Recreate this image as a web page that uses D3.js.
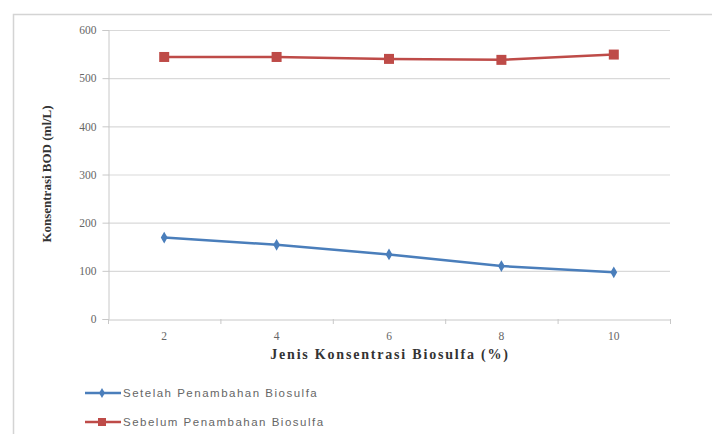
<!DOCTYPE html>
<html><head><meta charset="utf-8">
<script src="https://cdn.jsdelivr.net/npm/d3@7"></script>
<style>body{margin:0;background:#fff;} svg{display:block;}</style>
</head><body>
<svg id="c" width="712" height="434"></svg>
<script>
const categories = ["2","4","6","8","10"];
const setelah = [169,154,134,110,97];
const sebelum = [544,544,540,538,549];
const yTicks = [0,100,200,300,400,500,600];
const seriesNames = ["Setelah Penambahan Biosulfa","Sebelum Penambahan Biosulfa"];

const svg = d3.select("#c");
const L=108, R=670, T=30, B=319;
// outer frame
svg.append("rect").attr("x",13.5).attr("y",14.5).attr("width",720).attr("height",440)
  .attr("fill","none").attr("stroke","#d4d4d4").attr("stroke-width",1.5);

const x = d3.scaleBand().domain(categories).range([L,R]);
const y = d3.scaleLinear().domain([0,600]).range([B,T]);

// grid
svg.append("g").selectAll("line").data(yTicks.filter(d=>d>0)).join("line")
  .attr("x1",L).attr("x2",R).attr("y1",d=>y(d)+.5).attr("y2",d=>y(d)+.5)
  .attr("stroke","#d9d9d9").attr("stroke-width",1.2);

const yAxis = svg.append("g").attr("transform",`translate(${L+.5},0)`)
  .call(d3.axisLeft(y).tickValues(yTicks).tickSize(6).tickPadding(6));
yAxis.select(".domain").attr("stroke","#c8c8c8");
yAxis.selectAll(".tick line").attr("stroke","#c8c8c8");
yAxis.selectAll("text").attr("font-family","Liberation Serif").attr("font-size",11.5).attr("fill","#666");

const xAxis = svg.append("g").attr("transform",`translate(0,${B+.5})`)
  .call(d3.axisBottom(x).tickSize(0).tickPadding(12));
xAxis.select(".domain").attr("stroke","#c8c8c8");
xAxis.selectAll("text").attr("font-family","Liberation Serif").attr("font-size",11.5).attr("fill","#666");
// category boundary ticks
svg.append("g").selectAll("line").data(d3.range(categories.length+1)).join("line")
  .attr("x1",i=>L+i*x.bandwidth()+.5).attr("x2",i=>L+i*x.bandwidth()+.5)
  .attr("y1",B).attr("y2",B+5).attr("stroke","#c8c8c8");

// titles
svg.append("text").attr("x",390).attr("y",359).attr("text-anchor","middle")
  .attr("font-family","Liberation Serif").attr("font-weight","bold").attr("font-size",14)
  .attr("fill","#333").attr("letter-spacing",1.8).text("Jenis Konsentrasi Biosulfa (%)");
svg.append("text").attr("transform","translate(51,174) rotate(-90)").attr("text-anchor","middle")
  .attr("font-family","Liberation Serif").attr("font-weight","bold").attr("font-size",13)
  .attr("fill","#333").text("Konsentrasi BOD (ml/L)");

const cx = d => x(d)+x.bandwidth()/2;
const line = d3.line().x((d,i)=>cx(categories[i])).y(d=>y(d));
const colors = ["#4a7ebb","#be4b48"];
const data = [setelah, sebelum];

data.forEach((vals,k)=>{
  svg.append("path").datum(vals).attr("d",line).attr("fill","none")
    .attr("stroke",colors[k]).attr("stroke-width",2.5);
  const g = svg.append("g");
  if(k===0){
    g.selectAll("path").data(vals).join("path")
      .attr("d",d3.symbol(d3.symbolDiamond,40)())
      .attr("transform",(d,i)=>`translate(${cx(categories[i])},${y(d)})`)
      .attr("fill",colors[k]);
  } else {
    g.selectAll("rect").data(vals).join("rect")
      .attr("x",(d,i)=>cx(categories[i])-5).attr("y",d=>y(d)-5)
      .attr("width",10).attr("height",10).attr("fill",colors[k]);
  }
});

// legend
const ly = [393,422];
seriesNames.forEach((n,k)=>{
  const g = svg.append("g");
  g.append("line").attr("x1",85).attr("x2",121).attr("y1",ly[k]).attr("y2",ly[k])
    .attr("stroke",colors[k]).attr("stroke-width",2.5);
  if(k===0) g.append("path").attr("d",d3.symbol(d3.symbolDiamond,30)()).attr("transform",`translate(102,${ly[k]})`).attr("fill",colors[k]);
  else g.append("rect").attr("x",98).attr("y",ly[k]-4).attr("width",8).attr("height",8).attr("fill",colors[k]);
  g.append("text").attr("x",123).attr("y",ly[k]+4).attr("font-family","Liberation Sans").attr("font-size",11.5)
    .attr("letter-spacing",1.5).attr("fill","#666").text(n);
});
</script>
</body></html>
